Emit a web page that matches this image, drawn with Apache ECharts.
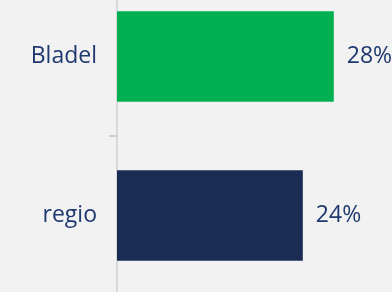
<!DOCTYPE html>
<html>
<head>
<meta charset="utf-8">
<script src="https://cdn.jsdelivr.net/npm/echarts@6/dist/echarts.min.js"></script>
<style>
  html, body { margin: 0; padding: 0; background: #f2f2f2; }
  #main { width: 392px; height: 292px; }
</style>
</head>
<body>
<div id="main"></div>
<script>
var categories = ['Bladel', 'regio'];
var values = [28, 24];
var barColors = ['#00b050', '#1b2c54'];

var dom = document.getElementById('main');
var myChart = echarts.init(dom, null, { renderer: 'canvas' });

var option = {
    backgroundColor: '#f2f2f2',
    grid: {
        left: 117,
        right: 4,
        top: -23,
        bottom: -3,
        outerBoundsMode: 'none'
    },
    xAxis: {
        type: 'value',
        min: 0,
        max: 35,
        show: false
    },
    yAxis: {
        type: 'category',
        data: categories,
        inverse: true,
        axisLine: { lineStyle: { color: '#d9d9d9', width: 2 } },
        axisTick: { show: true, interval: 0, length: 8, lineStyle: { color: '#d0d0d0', width: 2 } },
        axisLabel: {
            color: '#1f3870',
            fontFamily: 'Open Sans',
            fontSize: 23,
            margin: 20
        }
    },
    series: [{
        type: 'bar',
        barCategoryGap: '43%',
        data: values.map(function (v, i) {
            return { value: v, itemStyle: { color: barColors[i] } };
        }),
        label: {
            show: true,
            position: 'right',
            distance: 13,
            color: '#1f3870',
            fontFamily: 'Open Sans',
            fontSize: 23,
            formatter: '{c}%'
        }
    }]
};

myChart.setOption(option);
window.addEventListener('resize', myChart.resize);
</script>
</body>
</html>
